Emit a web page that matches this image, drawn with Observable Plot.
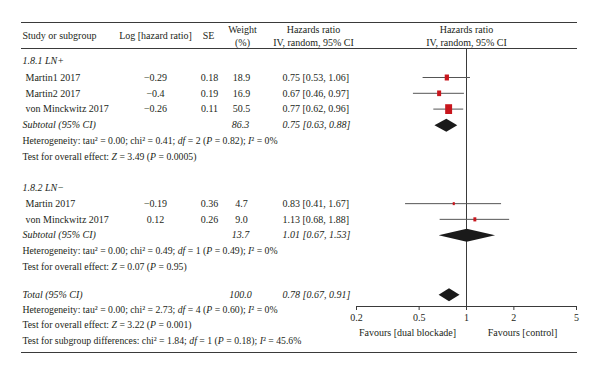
<!DOCTYPE html>
<html><head><meta charset="utf-8">
<script src="https://cdn.jsdelivr.net/npm/d3@7"></script>
<script src="https://cdn.jsdelivr.net/npm/@observablehq/plot@0.6"></script>
<style>body{margin:0;background:#fff}</style>
</head><body><div id="chart"></div>
<script>
// ---- data ----
const groupNames = ["1.8.1 LN+", "1.8.2 LN−"];
const studyNames = ["Martin1 2017", "Martin2 2017", "von Minckwitz 2017", "Martin 2017", "von Minckwitz 2017"];
const studyGroup = [0, 0, 0, 1, 1];
const logHR = [-0.29, -0.4, -0.26, -0.19, 0.12];
const se = [0.18, 0.19, 0.11, 0.36, 0.26];
const weight = [18.9, 16.9, 50.5, 4.7, 9.0];
const hr = [0.75, 0.67, 0.77, 0.83, 1.13];
const hrLow = [0.53, 0.46, 0.62, 0.41, 0.68];
const hrHigh = [1.06, 0.97, 0.96, 1.67, 1.88];
const pooledLabels = ["Subtotal (95% CI)", "Subtotal (95% CI)", "Total (95% CI)"];
const pooledWeight = [86.3, 13.7, 100.0];
const pooledHR = [0.75, 1.01, 0.78];
const pooledLow = [0.63, 0.67, 0.67];
const pooledHigh = [0.88, 1.53, 0.91];
const heterogeneity = [
  "Heterogeneity: tau² = 0.00; chi² = 0.41; _df_ = 2 (_P_ = 0.82); _I_² = 0%",
  "Heterogeneity: tau² = 0.00; chi² = 0.49; _df_ = 1 (_P_ = 0.49); _I_² = 0%",
  "Heterogeneity: tau² = 0.00; chi² = 2.73; _df_ = 4 (_P_ = 0.60); _I_² = 0%"
];
const overallEffect = [
  "Test for overall effect: _Z_ = 3.49 (_P_ = 0.0005)",
  "Test for overall effect: _Z_ = 0.07 (_P_ = 0.95)",
  "Test for overall effect: _Z_ = 3.22 (_P_ = 0.001)"
];
const subgroupTest = "Test for subgroup differences: chi² = 1.84; _df_ = 1 (_P_ = 0.18); _I_² = 45.6%";
const columnHeaders = ["Study or subgroup", "Log [hazard ratio]", "SE", "Weight\n(%)", "Hazards ratio\nIV, random, 95% CI", "Hazards ratio\nIV, random, 95% CI"];
const favourLabels = ["Favours [dual blockade]", "Favours [control]"];
const xTicks = [0.2, 0.5, 1, 2, 5];

// ---- layout (rows built in code) ----
const fmtNum = v => String(v).replace("-", "−");
const fmtCI = (m, l, h) => `${m.toFixed(2)} [${l.toFixed(2)}, ${h.toFixed(2)}]`;
const notes = [], studies = [], pooled = [];
let row = 0;
groupNames.forEach((g, gi) => {
  notes.push({row, text: g, italic: true}); row++;
  studyNames.forEach((s, i) => {
    if (studyGroup[i] !== gi) return;
    studies.push({row, name: s, log: fmtNum(logHR[i]), se: String(se[i]), w: weight[i], wt: weight[i].toFixed(1),
      hr: hr[i], lo: hrLow[i], hi: hrHigh[i], ci: fmtCI(hr[i], hrLow[i], hrHigh[i])});
    row++;
  });
  pooled.push({row, id: gi});
  row++;
  notes.push({row, text: heterogeneity[gi]}); row++;
  notes.push({row, text: overallEffect[gi]}); row++;
  row++;
});
pooled.push({row, id: 2}); row++;
notes.push({row, text: heterogeneity[2]}); row++;
notes.push({row, text: overallEffect[2]}); row++;
notes.push({row, text: subgroupTest}); row++;
pooled.forEach(p => {
  const k = p.id;
  Object.assign(p, {label: pooledLabels[k], wt: pooledWeight[k].toFixed(1), hr: pooledHR[k], lo: pooledLow[k], hi: pooledHigh[k],
    ci: fmtCI(pooledHR[k], pooledLow[k], pooledHigh[k])});
});

// row index -> vertical pixel position (piecewise layout)
const rowY = d3.scaleLinear().domain([0, 1, 6, 13, 15, 18]).range([60, 77, 156, 266, 294, 340]);
const ry = d => rowY(d.row);
const HALF = 6.5, SHIFT = 0.8;
const diamonds = pooled.flatMap(p => [
  {id: p.id, y: rowY(p.row) + SHIFT - HALF, x1: p.hr, x2: p.hr},
  {id: p.id, y: rowY(p.row) + SHIFT, x1: p.lo, x2: p.hi},
  {id: p.id, y: rowY(p.row) + SHIFT + HALF, x1: p.hr, x2: p.hr}
]);

const boxSymbol = {draw(ctx, size) { const s = Math.sqrt(size); const w = s * 0.85, h = s * 1.2; ctx.rect(-w / 2, -h / 2, w, h); }};

const INK = "#231f20", LINE = "#3a3a3a";
const ML = 356;
const headY = 34.5;
const colText = (data, opts) => Plot.text(data, {frameAnchor: "left", lineAnchor: "middle", ...opts});

const chart = Plot.plot({
  width: 600, height: 374,
  marginLeft: ML, marginRight: 24, marginTop: 48, marginBottom: 68,
  style: {fontFamily: "'Liberation Serif', 'Times New Roman', serif", fontSize: "10px", color: INK, background: "#fff"},
  x: {type: "log", domain: [0.2, 5]},
  y: {type: "identity", axis: null},
  r: {type: "sqrt", domain: [0, 50.5], range: [0, 4.6]},
  marks: [
    Plot.ruleY([22, 48, 352], {insetLeft: -335, insetRight: -1, stroke: LINE, strokeWidth: 1}),
    Plot.ruleX([1], {stroke: LINE, strokeWidth: 1}),
    Plot.frame({anchor: "bottom", stroke: LINE}),
    Plot.axisX({ticks: xTicks, tickFormat: d => String(d), tickSize: 4, tickPadding: 3, label: null, stroke: LINE, fontSize: 10}),
    Plot.ruleY(studies, {y: ry, x1: "lo", x2: "hi", stroke: "#555", strokeWidth: 1}),
    Plot.dot(studies, {x: "hr", y: ry, r: "w", symbol: boxSymbol, fill: "#c8161d", stroke: null}),
    Plot.areaX(diamonds, {y: "y", x1: "x1", x2: "x2", z: "id", fill: "#1a1a1a", curve: "linear"}),
    // headers
    colText([columnHeaders[0]], {y: () => headY + 0.5, text: d => d, dx: 22 - ML, textAnchor: "start"}),
    colText([columnHeaders[1]], {y: () => headY + 0.5, text: d => d, dx: 155 - ML, textAnchor: "middle"}),
    colText([columnHeaders[2]], {y: () => headY + 0.5, text: d => d, dx: 208 - ML, textAnchor: "middle"}),
    colText([columnHeaders[3]], {y: () => headY, text: d => d, dx: 242 - ML, textAnchor: "middle", lineHeight: 1.3}),
    colText([columnHeaders[4]], {y: () => headY, text: d => d, dx: 313 - ML, textAnchor: "middle", lineHeight: 1.3}),
    colText([columnHeaders[5]], {y: () => headY, text: d => d, dx: 466 - ML, textAnchor: "middle", lineHeight: 1.3}),
    // notes & group headers
    colText(notes.filter(d => d.italic), {y: ry, text: "text", dx: 22 - ML, textAnchor: "start", fontStyle: "italic"}),
    colText(notes.filter(d => !d.italic), {y: ry, text: "text", dx: 22 - ML, textAnchor: "start", fontSize: 9.75}),
    // studies
    colText(studies, {y: ry, text: "name", dx: 25 - ML, textAnchor: "start"}),
    colText(studies, {y: ry, text: "log", dx: 155 - ML, textAnchor: "middle"}),
    colText(studies, {y: ry, text: "se", dx: 209 - ML, textAnchor: "middle"}),
    colText(studies, {y: ry, text: "wt", dx: 241 - ML, textAnchor: "middle"}),
    colText(studies, {y: ry, text: "ci", dx: 282 - ML, textAnchor: "start"}),
    // pooled
    colText(pooled, {y: ry, text: "label", dx: 22 - ML, textAnchor: "start", fontStyle: "italic"}),
    colText(pooled, {y: ry, text: "wt", dx: 240 - ML, textAnchor: "middle", fontStyle: "italic"}),
    colText(pooled, {y: ry, text: "ci", dx: 282 - ML, textAnchor: "start", fontStyle: "italic"}),
    // favours
    Plot.text([favourLabels[0]], {frameAnchor: "bottom", lineAnchor: "middle", text: d => d, dx: -59, dy: 26}),
    Plot.text([favourLabels[1]], {frameAnchor: "bottom", lineAnchor: "middle", text: d => d, dx: 56, dy: 26})
  ]
});

chart.querySelectorAll("text").forEach(t => {
  if (t.querySelector("tspan")) return;
  const s = t.textContent;
  if (!s.includes("_")) return;
  t.textContent = "";
  s.split("_").forEach((part, k) => {
    if (!part) return;
    const ts = document.createElementNS("http://www.w3.org/2000/svg", "tspan");
    if (k % 2) ts.setAttribute("font-style", "italic");
    ts.textContent = part;
    t.appendChild(ts);
  });
});
document.getElementById("chart").appendChild(chart);
</script>
</body></html>
